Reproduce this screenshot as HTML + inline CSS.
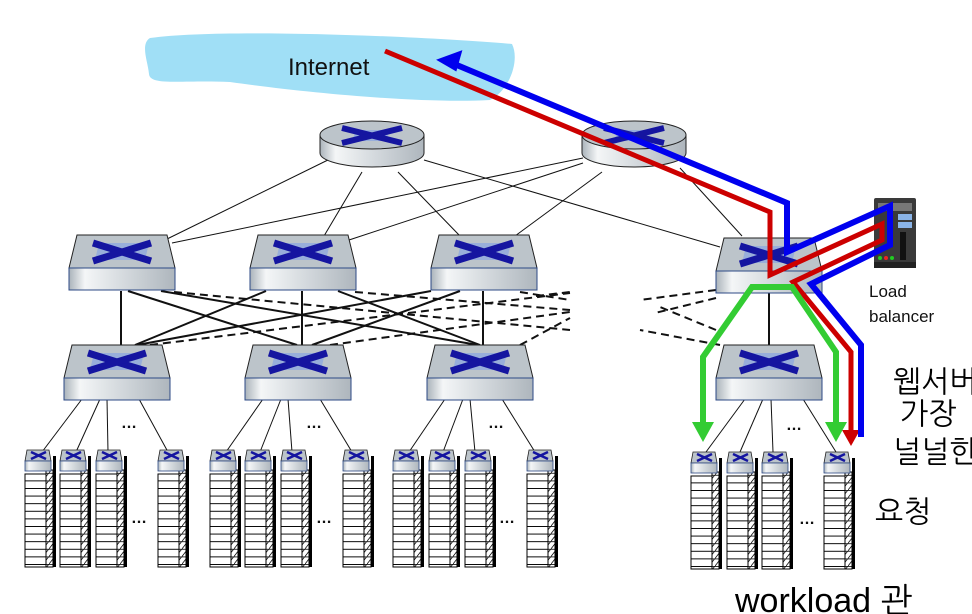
<!DOCTYPE html>
<html><head><meta charset="utf-8"><style>
html,body{margin:0;padding:0;background:#fff;}
svg{display:block;}
.hw{font-family:"Liberation Sans","NanumGothic","Noto Sans CJK KR",sans-serif;fill:#000;}
</style></head><body>
<svg width="972" height="614" viewBox="0 0 972 614" xmlns="http://www.w3.org/2000/svg">
<defs>
<linearGradient id="gf" x1="0" x2="1" y1="0" y2="0">
<stop offset="0" stop-color="#aab3ba"/><stop offset="0.15" stop-color="#f4f6f7"/><stop offset="0.5" stop-color="#d6dbdf"/><stop offset="1" stop-color="#aeb6bd"/>
</linearGradient>
<pattern id="rows" width="30" height="7.6" patternUnits="userSpaceOnUse">
<rect width="30" height="7.6" fill="#fff"/><line x1="0" y1="0.5" x2="30" y2="0.5" stroke="#000" stroke-width="1"/>
</pattern>
<pattern id="hatch" width="6" height="7.6" patternUnits="userSpaceOnUse">
<rect width="6" height="7.6" fill="#fff"/><line x1="0" y1="7.6" x2="6" y2="0" stroke="#000" stroke-width="0.8"/><line x1="0" y1="0.5" x2="6" y2="0.5" stroke="#000" stroke-width="0.8"/>
</pattern>
<g id="sw">
<polygon points="8,0 98,0 106,33 0,33" fill="#bcc4ca" stroke="#222" stroke-width="1"/>
<polygon points="30,8 80,8 76,25 26,25" fill="#8fa9dd" opacity="0.8"/>
<line x1="24" y1="8" x2="82" y2="26" stroke="#1515a0" stroke-width="7"/>
<line x1="82" y1="8" x2="24" y2="26" stroke="#1515a0" stroke-width="7"/>
<rect x="0" y="33" width="106" height="22" fill="url(#gf)" stroke="#2d4a86" stroke-width="1"/>
</g>
<g id="rt">
<path d="M0,13 L0,31 A52,14 0 0 0 104,31 L104,13 Z" fill="url(#gf)" stroke="#222" stroke-width="1"/>
<ellipse cx="52" cy="13" rx="52" ry="14" fill="#bcc4ca" stroke="#222" stroke-width="1"/>
<polygon points="36,8 70,8 66,19 32,19" fill="#8fa9dd" opacity="0.8"/>
<line x1="22" y1="6" x2="82" y2="21" stroke="#1515a0" stroke-width="6"/>
<line x1="82" y1="6" x2="22" y2="21" stroke="#1515a0" stroke-width="6"/>
</g>
<g id="rack">
<rect x="28" y="6" width="3" height="111" fill="#000"/>
<rect x="0" y="24" width="21" height="93" fill="url(#rows)" stroke="#000" stroke-width="1"/>
<rect x="21" y="20" width="7" height="97" fill="url(#hatch)" stroke="#000" stroke-width="1"/>
<polygon points="2,0 24,0 26,11 0,11" fill="#bcc4ca" stroke="#222" stroke-width="0.8"/>
<line x1="6" y1="2" x2="21" y2="9" stroke="#1515a0" stroke-width="2.5"/>
<line x1="21" y1="2" x2="6" y2="9" stroke="#1515a0" stroke-width="2.5"/>
<rect x="0" y="11" width="26" height="10" fill="url(#gf)" stroke="#2d4a86" stroke-width="0.8"/>
</g>
</defs>

<path d="M150,38 C220,28 420,36 512,44 C520,60 510,90 490,100 C420,104 300,92 230,82 C180,80 150,86 149,74 C148,62 140,44 150,38 Z" fill="#a0dff6"/>
<text x="288" y="75" font-family="Liberation Sans, sans-serif" font-size="24" fill="#111">Internet</text>

<g stroke="#111" stroke-width="1" fill="none">
<line x1="332" y1="158" x2="165" y2="240"/>
<line x1="362" y1="172" x2="324" y2="236"/>
<line x1="398" y1="172" x2="460" y2="236"/>
<line x1="424" y1="160" x2="720" y2="247"/>
<line x1="583" y1="158" x2="172" y2="243"/>
<line x1="583" y1="163" x2="349" y2="240"/>
<line x1="602" y1="172" x2="515" y2="236"/>
<line x1="680" y1="168" x2="742" y2="236"/>
</g>
<g stroke="#111" stroke-width="2" fill="none">
<line x1="121" y1="291" x2="121" y2="345"/>
<line x1="302" y1="291" x2="302" y2="345"/>
<line x1="483" y1="291" x2="483" y2="345"/>
<line x1="769" y1="291" x2="769" y2="345"/>
<line x1="128" y1="291" x2="297" y2="345"/>
<line x1="161" y1="291" x2="478" y2="345"/>
<line x1="266" y1="291" x2="135" y2="345"/>
<line x1="338" y1="291" x2="480" y2="345"/>
<line x1="431" y1="291" x2="137" y2="345"/>
<line x1="460" y1="291" x2="312" y2="345"/>
</g>
<g stroke="#111" stroke-width="2" fill="none" stroke-dasharray="8,5">
<line x1="174" y1="292" x2="570" y2="330"/>
<line x1="355" y1="292" x2="570" y2="310"/>
<line x1="520" y1="292" x2="570" y2="300"/>
<line x1="536" y1="296" x2="570" y2="292"/>
<line x1="150" y1="345" x2="570" y2="293"/>
<line x1="330" y1="345" x2="570" y2="312"/>
<line x1="520" y1="345" x2="570" y2="318"/>
<line x1="716" y1="290" x2="640" y2="300"/>
<line x1="716" y1="298" x2="655" y2="313"/>
<line x1="720" y1="345" x2="640" y2="330"/>
<line x1="716" y1="330" x2="660" y2="307"/>
</g>
<g stroke="#111" stroke-width="1" fill="none">
<line x1="82" y1="399" x2="42" y2="452"/><line x1="100" y1="399" x2="76" y2="452"/><line x1="107" y1="399" x2="108" y2="452"/><line x1="139" y1="399" x2="168" y2="452"/>
<line x1="263" y1="399" x2="226" y2="452"/><line x1="281" y1="399" x2="260" y2="452"/><line x1="288" y1="399" x2="292" y2="452"/><line x1="320" y1="399" x2="352" y2="452"/>
<line x1="445" y1="399" x2="409" y2="452"/><line x1="463" y1="399" x2="443" y2="452"/><line x1="470" y1="399" x2="475" y2="452"/><line x1="502" y1="399" x2="535" y2="452"/>
<line x1="745" y1="399" x2="706" y2="452"/><line x1="763" y1="399" x2="740" y2="452"/><line x1="771" y1="399" x2="773" y2="452"/><line x1="803" y1="399" x2="836" y2="452"/>
</g>

<use href="#rt" x="320" y="122"/>
<use href="#rt" x="582" y="122"/>
<use href="#sw" x="69" y="235"/>
<use href="#sw" x="250" y="235"/>
<use href="#sw" x="431" y="235"/>
<use href="#sw" x="716" y="238"/>
<use href="#sw" x="64" y="345"/>
<use href="#sw" x="245" y="345"/>
<use href="#sw" x="427" y="345"/>
<use href="#sw" x="716" y="345"/>

<use href="#rack" x="25" y="450"/><use href="#rack" x="60" y="450"/><use href="#rack" x="96" y="450"/><use href="#rack" x="158" y="450"/>
<use href="#rack" x="210" y="450"/><use href="#rack" x="245" y="450"/><use href="#rack" x="281" y="450"/><use href="#rack" x="343" y="450"/>
<use href="#rack" x="393" y="450"/><use href="#rack" x="429" y="450"/><use href="#rack" x="465" y="450"/><use href="#rack" x="527" y="450"/>
<use href="#rack" x="691" y="452"/><use href="#rack" x="727" y="452"/><use href="#rack" x="762" y="452"/><use href="#rack" x="824" y="452"/>

<g font-family="Liberation Sans, sans-serif" font-size="16" font-weight="bold" fill="#111">
<text x="121" y="428">…</text><text x="306" y="428">…</text><text x="488" y="428">…</text><text x="786" y="430">…</text>
<text x="131" y="523">…</text><text x="316" y="523">…</text><text x="499" y="523">…</text><text x="799" y="524">…</text>
</g>

<rect x="874" y="198" width="42" height="70" rx="2" fill="#3a3a3a"/>
<rect x="878" y="203" width="34" height="8" fill="#777"/>
<rect x="898" y="214" width="14" height="6" fill="#8ab4e8"/>
<rect x="898" y="222" width="14" height="6" fill="#8ab4e8"/>
<rect x="900" y="232" width="6" height="28" fill="#111"/>
<circle cx="880" cy="258" r="2" fill="#2c2"/><circle cx="886" cy="258" r="2" fill="#e22"/><circle cx="892" cy="258" r="2" fill="#2c2"/>
<rect x="874" y="262" width="42" height="6" fill="#222"/>
<text x="869" y="297" font-family="Liberation Sans, sans-serif" font-size="17" fill="#111">Load</text>
<text x="869" y="322" font-family="Liberation Sans, sans-serif" font-size="17" fill="#111">balancer</text>

<polyline points="385,51 770,212 770,275 882,224 882,240 793,282 851,352 851,432" fill="none" stroke="#cc0000" stroke-width="5"/>
<polygon points="842,430 860,430 851,446" fill="#cc0000"/>
<polyline points="452,63 787,203 787,252 890,206 890,245 811,284 861,345 861,437" fill="none" stroke="#0000ee" stroke-width="6"/>
<polygon points="437,55 465,55 452,73" fill="#0000ee" transform="rotate(-20 450 60)"/>
<polyline points="703,425 703,357 752,287 792,287 836,352 836,425" fill="none" stroke="#33cc33" stroke-width="6"/>
<polygon points="692,422 714,422 703,442" fill="#33cc33"/>
<polygon points="825,422 847,422 836,442" fill="#33cc33"/>

<g class="hw" font-size="30">
<text x="893" y="392">웹서버</text>
<text x="900" y="424">가장</text>
<text x="893" y="462">널널한</text>
<text x="875" y="522">요청</text>
<text x="735" y="612" font-size="34">workload 관</text>
</g>
</svg>
</body></html>
